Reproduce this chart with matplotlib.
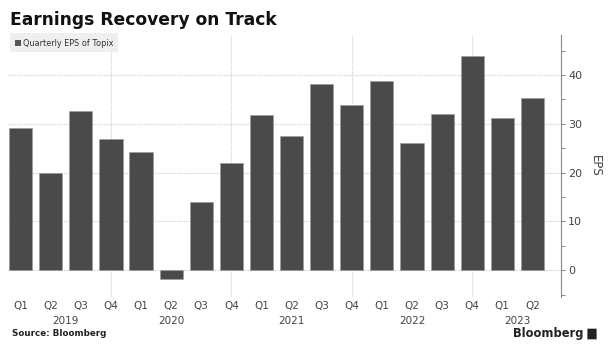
import matplotlib
matplotlib.use("Agg")
import matplotlib.pyplot as plt
from matplotlib.patches import Rectangle, FancyBboxPatch

quarters = ["Q1", "Q2", "Q3", "Q4"] * 4 + ["Q1", "Q2"]
years = ["2019", "2020", "2021", "2022", "2023"]
year_pos = [1.5, 5.0, 9.0, 13.0, 16.5]
eps = [29.1, 19.9, 32.6, 26.9, 24.2, -1.8, 13.9, 21.9, 31.8, 27.5,
       38.2, 33.8, 38.8, 26.0, 32.0, 43.9, 31.2, 35.3]

bar_color = "#4a4a4a"
grid_color = "#cfcfcf"

fig = plt.figure(figsize=(6.09, 3.51), dpi=100)
ax = fig.add_axes([8 / 609, 1 - 297 / 351, (561 - 8) / 609, (297 - 35) / 351])

x = list(range(len(eps)))
ax.bar(x, eps, width=0.77, color=bar_color, edgecolor="#9a9a9a", linewidth=0.4, zorder=3)

ax.set_xlim(-0.42, 17.95)
ax.set_ylim(-5.5, 48.2)

# dotted gridlines
for v in [0, 10, 20, 30, 40]:
    ax.axhline(v, color=grid_color, linestyle=(0, (1, 1)), linewidth=0.8, zorder=1)
for i, q in enumerate(quarters):
    if q == "Q4":
        ax.axvline(i, color=grid_color, linestyle=(0, (1, 1)), linewidth=0.8, zorder=1)

for s in ["left", "top", "bottom"]:
    ax.spines[s].set_visible(False)
ax.spines["right"].set_color("#888888")
ax.spines["right"].set_linewidth(0.8)

ax.yaxis.tick_right()
ax.set_yticks([0, 10, 20, 30, 40])
ax.set_yticks([-5, 5, 15, 25, 35, 45], minor=True)
ax.tick_params(axis="y", which="both", length=3, width=0.7, color="#888888",
               labelsize=8, labelcolor="#444444", pad=2)
ax.yaxis.set_label_position("right")
ax.set_ylabel("EPS", rotation=270, fontsize=8.5, color="#444444", labelpad=14)

ax.set_xticks(x)
ax.set_xticklabels(quarters)
ax.tick_params(axis="x", length=0, labelsize=7.5, labelcolor="#444444", pad=3)
for yr, p in zip(years, year_pos):
    ax.text(p, -24 / 262, yr, transform=ax.get_xaxis_transform(), ha="center", va="center",
            fontsize=7.5, color="#444444")

# title and legend
fig.text(10 / 609, 1 - 20 / 351, "Earnings Recovery on Track", fontsize=12.3,
         fontweight="bold", color="#111111", va="center", ha="left")
fig.patches.append(Rectangle((10 / 609, 1 - 52 / 351), 108 / 609, 19 / 351,
                             transform=fig.transFigure, facecolor="#efefef",
                             edgecolor="none"))
fig.patches.append(Rectangle((15 / 609, 1 - 46 / 351), 6 / 609, 6 / 351,
                             transform=fig.transFigure, facecolor="#555555",
                             edgecolor="none"))
fig.text(23 / 609, 1 - 43 / 351, "Quarterly EPS of Topix", fontsize=5.9,
         color="#333333", va="center", ha="left")

# footer
fig.text(12 / 609, 1 - 334 / 351, "Source: Bloomberg", fontsize=6.3,
         fontweight="bold", color="#222222", va="center", ha="left")
fig.text(584 / 609, 1 - 334 / 351, "Bloomberg", fontsize=8.3,
         fontweight="bold", color="#222222", va="center", ha="right")
fig.patches.append(FancyBboxPatch((588 / 609, 1 - 339 / 351), 8 / 609, 10 / 351,
                                  boxstyle="round,pad=0.001",
                                  transform=fig.transFigure, facecolor="#222222",
                                  edgecolor="none"))

fig.savefig("out.png", dpi=100)
